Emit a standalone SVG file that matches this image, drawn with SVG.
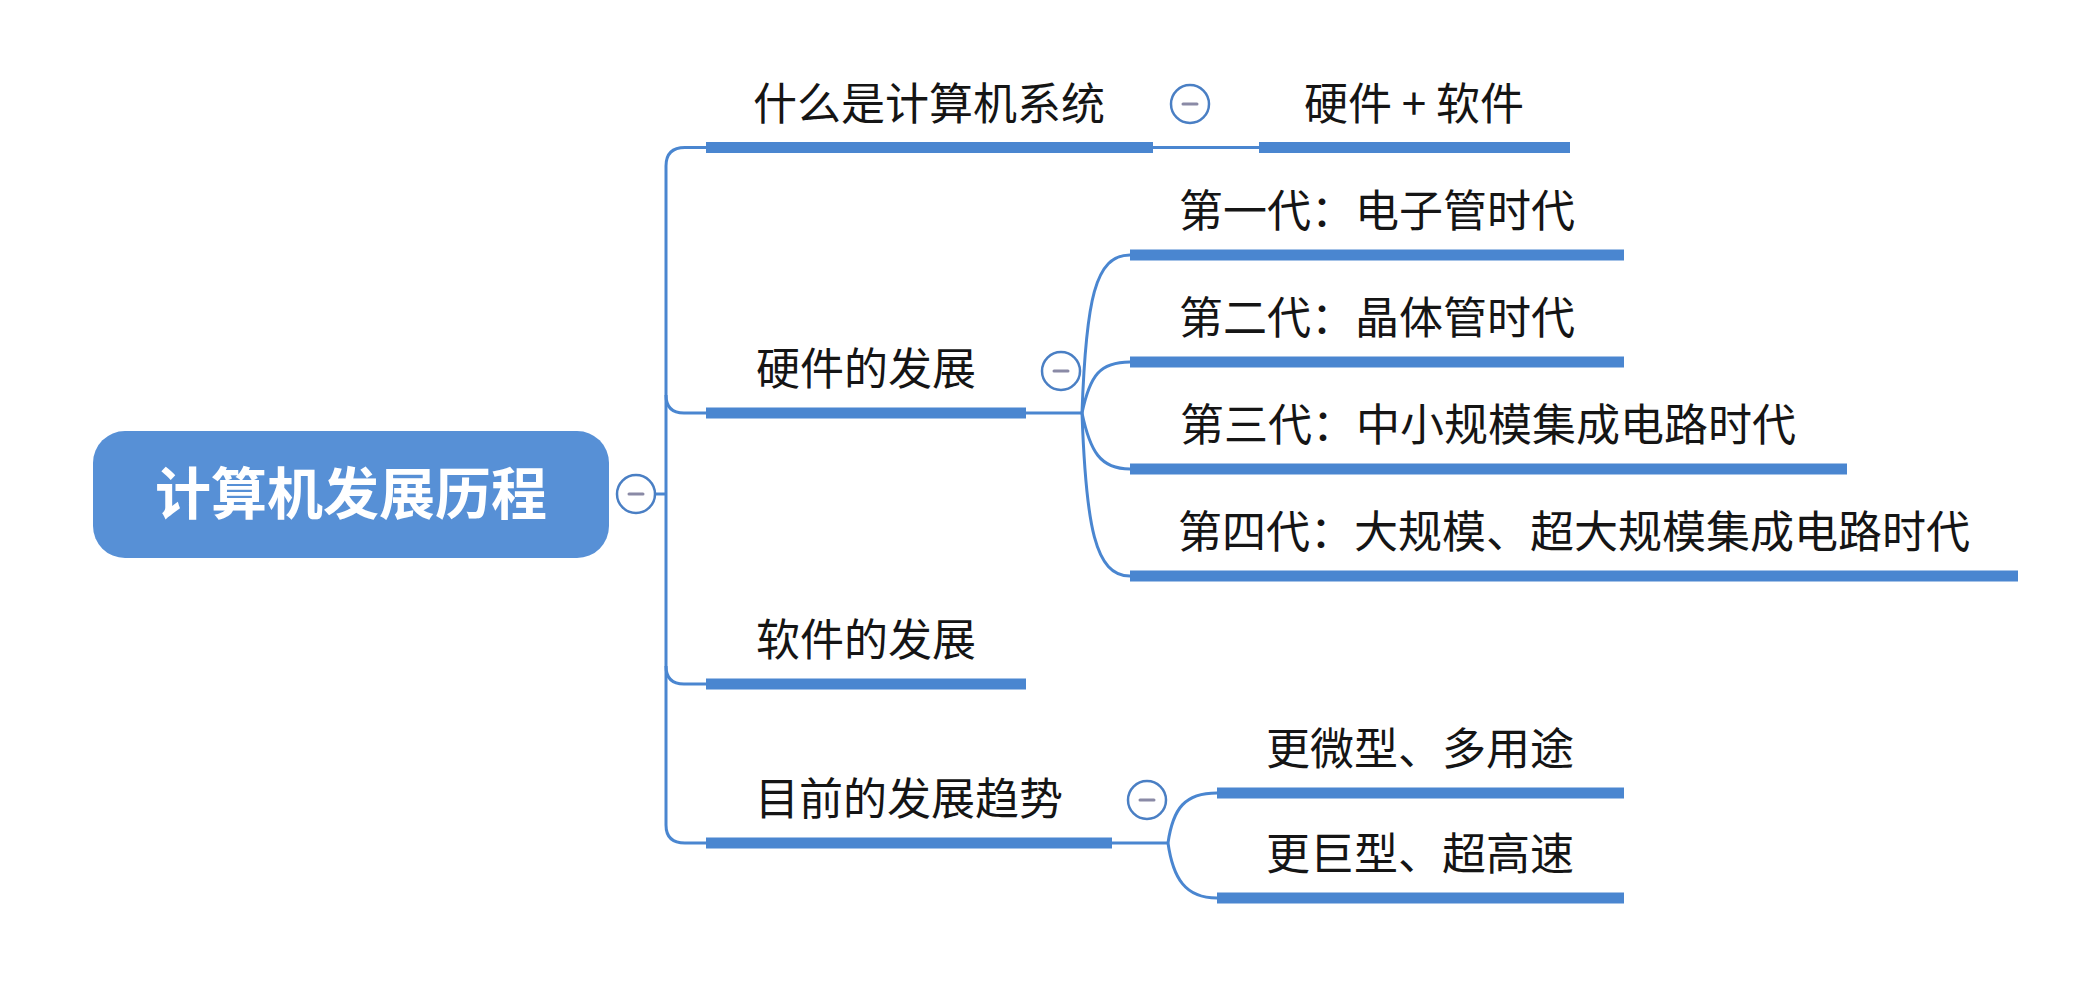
<svg xmlns="http://www.w3.org/2000/svg" width="2078" height="986" viewBox="0 0 2078 986">
<style>
.bg{fill:#ffffff}
.bar{stroke:#4a86d0;stroke-width:11;stroke-linecap:butt;fill:none}
.link{stroke:#4a86d0;stroke-width:3;fill:none}
.tog circle{fill:#ffffff;stroke:#4a7fc4;stroke-width:2.5}
.tog line{stroke:#8a8aa6;stroke-width:3;stroke-linecap:round}
.lbl{font-family:"Noto Sans CJK SC","Noto Sans",sans-serif;font-size:44px;fill:#151515;text-anchor:middle}
.root-t{font-family:"Noto Sans CJK SC","Noto Sans",sans-serif;font-size:56px;font-weight:bold;fill:#ffffff;text-anchor:middle}
</style>
<rect class="bg" x="0" y="0" width="2078" height="986"/>
<g id="connectors">
<path class="link" d="M655,494 H666"/>
<path class="link" d="M706,147.5 H685 Q666,147.5 666,166 V825 Q666,843 685,843 H706"/>
<path class="link" d="M666,395 Q666,413 684,413 H706"/>
<path class="link" d="M666,666 Q666,684 684,684 H706"/>
<path class="link" d="M1153,147.5 H1259"/>
<path class="link" d="M1026,413 H1082"/>
<path class="link" d="M1082,413 C1086,300 1095,255 1130,255"/>
<path class="link" d="M1082,413 C1090,375 1100,362 1130,362"/>
<path class="link" d="M1082,413 C1090,451 1100,469 1130,469"/>
<path class="link" d="M1082,413 C1086,526 1095,576 1130,576"/>
<path class="link" d="M1112,843 H1168"/>
<path class="link" d="M1168,843 C1173,808 1185,793 1217,793"/>
<path class="link" d="M1168,843 C1173,878 1185,898 1217,898"/>
</g>
<g id="root">
<rect x="93" y="431" width="516" height="127" rx="32" fill="#5790d6"/>
<text class="root-t" x="351" y="514">计算机发展历程</text>
<g class="tog"><circle cx="636" cy="494" r="19"/><line x1="629" y1="494" x2="643" y2="494"/></g>
</g>
<g id="n-system">
<line class="bar" x1="706" y1="147.5" x2="1153" y2="147.5"/>
<text class="lbl" x="929" y="120">什么是计算机系统</text>
<g class="tog"><circle cx="1190" cy="104" r="19"/><line x1="1183" y1="104" x2="1197" y2="104"/></g>
</g>
<g id="n-hwsw">
<line class="bar" x1="1259" y1="147.5" x2="1570" y2="147.5"/>
<text class="lbl" x="1414" y="120">硬件 + 软件</text>
</g>
<g id="n-hardware">
<line class="bar" x1="706" y1="413" x2="1026" y2="413"/>
<text class="lbl" x="866" y="385">硬件的发展</text>
<g class="tog"><circle cx="1061" cy="371" r="19"/><line x1="1054" y1="371" x2="1068" y2="371"/></g>
</g>
<g id="n-gen1">
<line class="bar" x1="1130" y1="255" x2="1624" y2="255"/>
<text class="lbl" x="1377" y="227">第一代：电子管时代</text>
</g>
<g id="n-gen2">
<line class="bar" x1="1130" y1="362" x2="1624" y2="362"/>
<text class="lbl" x="1377" y="334">第二代：晶体管时代</text>
</g>
<g id="n-gen3">
<line class="bar" x1="1130" y1="469" x2="1847" y2="469"/>
<text class="lbl" x="1488" y="441">第三代：中小规模集成电路时代</text>
</g>
<g id="n-gen4">
<line class="bar" x1="1130" y1="576" x2="2018" y2="576"/>
<text class="lbl" x="1574" y="548">第四代：大规模、超大规模集成电路时代</text>
</g>
<g id="n-software">
<line class="bar" x1="706" y1="684" x2="1026" y2="684"/>
<text class="lbl" x="866" y="656">软件的发展</text>
</g>
<g id="n-trend">
<line class="bar" x1="706" y1="843" x2="1112" y2="843"/>
<text class="lbl" x="909" y="815">目前的发展趋势</text>
<g class="tog"><circle cx="1147" cy="800" r="19"/><line x1="1140" y1="800" x2="1154" y2="800"/></g>
</g>
<g id="n-micro">
<line class="bar" x1="1217" y1="793" x2="1624" y2="793"/>
<text class="lbl" x="1420" y="765">更微型、多用途</text>
</g>
<g id="n-giant">
<line class="bar" x1="1217" y1="898" x2="1624" y2="898"/>
<text class="lbl" x="1420" y="870">更巨型、超高速</text>
</g>
</svg>
